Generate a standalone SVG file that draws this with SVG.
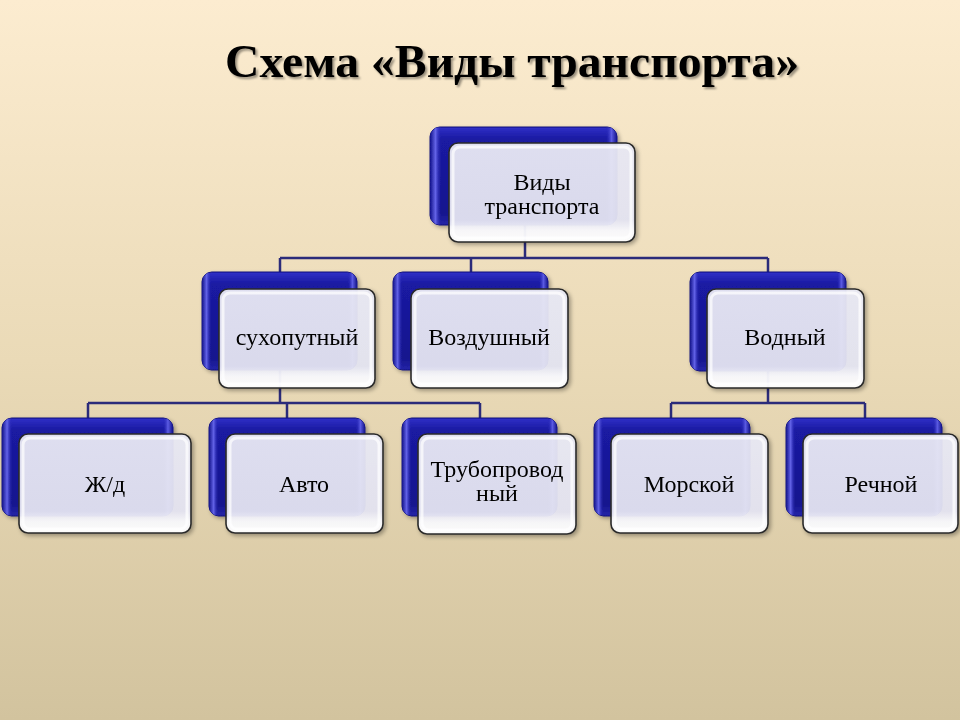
<svg xmlns="http://www.w3.org/2000/svg" width="960" height="720" viewBox="0 0 960 720">
<defs>
<linearGradient id="bg" x1="0" y1="0" x2="0" y2="1">
<stop offset="0" stop-color="#fcecd0"/>
<stop offset="0.5" stop-color="#eadab7"/>
<stop offset="1" stop-color="#d2c39e"/>
</linearGradient>
<linearGradient id="blue" x1="0" y1="0" x2="0" y2="1">
<stop offset="0" stop-color="#3030c8"/>
<stop offset="0.12" stop-color="#1a1aa2"/>
<stop offset="0.88" stop-color="#16168e"/>
<stop offset="1" stop-color="#2424a8"/>
</linearGradient>
<linearGradient id="blueEdge" x1="0" y1="0" x2="1" y2="0">
<stop offset="0" stop-color="#12128a"/>
<stop offset="0.03" stop-color="#6464e8"/>
<stop offset="0.06" stop-color="#2020b0" stop-opacity="0"/>
<stop offset="0.94" stop-color="#2020b0" stop-opacity="0"/>
<stop offset="0.97" stop-color="#5c5ce4"/>
<stop offset="1" stop-color="#12128a"/>
</linearGradient>
<linearGradient id="white" x1="0" y1="0" x2="0" y2="1">
<stop offset="0" stop-color="#e9e9f4"/>
<stop offset="0.78" stop-color="#e4e4f1"/>
<stop offset="0.88" stop-color="#f8f8fc"/>
<stop offset="1" stop-color="#ffffff"/>
</linearGradient>
<filter id="sh" x="-10%" y="-10%" width="130%" height="130%">
<feGaussianBlur in="SourceAlpha" stdDeviation="2"/>
<feOffset dx="2" dy="2"/>
<feComponentTransfer><feFuncA type="linear" slope="0.35"/></feComponentTransfer>
<feMerge><feMergeNode/><feMergeNode in="SourceGraphic"/></feMerge>
</filter>
<filter id="tsh" x="-5%" y="-20%" width="110%" height="150%">
<feGaussianBlur in="SourceAlpha" stdDeviation="1"/>
<feOffset dx="2" dy="2"/>
<feComponentTransfer><feFuncA type="linear" slope="0.4"/></feComponentTransfer>
<feMerge><feMergeNode/><feMergeNode in="SourceGraphic"/></feMerge>
</filter>
</defs>
<style>
.b{fill:url(#blue);stroke:#10107a;stroke-width:1}
.be{fill:url(#blueEdge)}
.w{fill:url(#white);fill-opacity:0.95;stroke:#2a2a2a;stroke-width:1.6}
.wi{fill:none;stroke:#ffffff;stroke-opacity:0.7;stroke-width:3}
.t{font-family:"Liberation Serif","Times New Roman",serif;font-size:24px;fill:#000;text-anchor:middle}
.c{fill:none;stroke:#2b2b7a;stroke-width:2.5}
.title{font-family:"Liberation Serif","Times New Roman",serif;font-size:46px;font-weight:bold;text-anchor:middle;fill:#000}
</style>
<rect x="0" y="0" width="960" height="720" fill="url(#bg)"/>
<text class="title" x="512" y="77" textLength="574" lengthAdjust="spacingAndGlyphs" filter="url(#tsh)">Схема «Виды транспорта»</text>

<g id="connectors">
<path class="c" d="M525,225 V258 M280,258 H768 M280,258 V272 M471,258 V272 M768,258 V272"/>
<path class="c" d="M280,370 V403 M88,403 H480 M88,403 V418 M287,403 V418 M480,403 V418"/>
<path class="c" d="M768,370 V403 M671,403 H865 M671,403 V418 M865,403 V418"/>
</g>

<g id="root" filter="url(#sh)">
<rect class="b" x="430" y="127" width="187" height="98" rx="10"/>
<rect class="be" x="430" y="127" width="187" height="98" rx="10"/>
<rect class="w" x="449" y="143" width="186" height="99" rx="9"/>
<rect class="wi" x="453" y="147" width="178" height="91" rx="7"/>
<text class="t" x="542" y="190">Виды</text>
<text class="t" x="542" y="214">транспорта</text>
</g>

<g id="suhoputny" filter="url(#sh)">
<rect class="b" x="202" y="272" width="155" height="98" rx="10"/>
<rect class="be" x="202" y="272" width="155" height="98" rx="10"/>
<rect class="w" x="219" y="289" width="156" height="99" rx="9"/>
<rect class="wi" x="223" y="293" width="148" height="91" rx="7"/>
<text class="t" x="297" y="345">сухопутный</text>
</g>

<g id="vozdushny" filter="url(#sh)">
<rect class="b" x="393" y="272" width="155" height="98" rx="10"/>
<rect class="be" x="393" y="272" width="155" height="98" rx="10"/>
<rect class="w" x="411" y="289" width="157" height="99" rx="9"/>
<rect class="wi" x="415" y="293" width="149" height="91" rx="7"/>
<text class="t" x="489" y="345">Воздушный</text>
</g>

<g id="vodny" filter="url(#sh)">
<rect class="b" x="690" y="272" width="156" height="99" rx="10"/>
<rect class="be" x="690" y="272" width="156" height="99" rx="10"/>
<rect class="w" x="707" y="289" width="157" height="99" rx="9"/>
<rect class="wi" x="711" y="293" width="149" height="91" rx="7"/>
<text class="t" x="785" y="345">Водный</text>
</g>

<g id="zhd" filter="url(#sh)">
<rect class="b" x="2" y="418" width="171" height="98" rx="10"/>
<rect class="be" x="2" y="418" width="171" height="98" rx="10"/>
<rect class="w" x="19" y="434" width="172" height="99" rx="9"/>
<rect class="wi" x="23" y="438" width="164" height="91" rx="7"/>
<text class="t" x="105" y="492">Ж/д</text>
</g>

<g id="avto" filter="url(#sh)">
<rect class="b" x="209" y="418" width="156" height="98" rx="10"/>
<rect class="be" x="209" y="418" width="156" height="98" rx="10"/>
<rect class="w" x="226" y="434" width="157" height="99" rx="9"/>
<rect class="wi" x="230" y="438" width="149" height="91" rx="7"/>
<text class="t" x="304" y="492">Авто</text>
</g>

<g id="truboprovodny" filter="url(#sh)">
<rect class="b" x="402" y="418" width="155" height="98" rx="10"/>
<rect class="be" x="402" y="418" width="155" height="98" rx="10"/>
<rect class="w" x="418" y="434" width="158" height="100" rx="9"/>
<rect class="wi" x="422" y="438" width="150" height="92" rx="7"/>
<text class="t" x="497" y="477">Трубопровод</text>
<text class="t" x="497" y="501">ный</text>
</g>

<g id="morskoy" filter="url(#sh)">
<rect class="b" x="594" y="418" width="156" height="98" rx="10"/>
<rect class="be" x="594" y="418" width="156" height="98" rx="10"/>
<rect class="w" x="611" y="434" width="157" height="99" rx="9"/>
<rect class="wi" x="615" y="438" width="149" height="91" rx="7"/>
<text class="t" x="689" y="492">Морской</text>
</g>

<g id="rechnoy" filter="url(#sh)">
<rect class="b" x="786" y="418" width="156" height="98" rx="10"/>
<rect class="be" x="786" y="418" width="156" height="98" rx="10"/>
<rect class="w" x="803" y="434" width="155" height="99" rx="9"/>
<rect class="wi" x="807" y="438" width="147" height="91" rx="7"/>
<text class="t" x="881" y="492">Речной</text>
</g>
</svg>
